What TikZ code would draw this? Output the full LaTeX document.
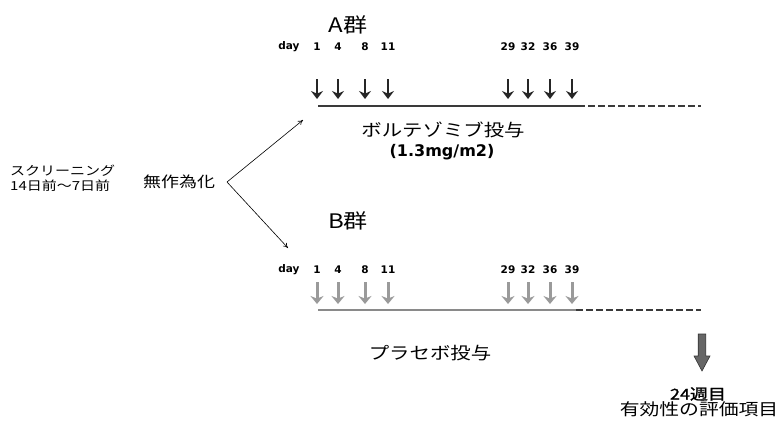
\documentclass[tikz,border=0pt]{standalone}
\usepackage{fontspec}
\setmainfont{DejaVu Sans}
\newfontfamily\jp[FakeStretch=1.2]{Noto Sans CJK JP}
\newfontfamily\jpb[FakeStretch=1.2,FakeBold=1.5]{Noto Sans CJK JP}
\newfontfamily\latb{DejaVu Sans Bold}
\usetikzlibrary{arrows.meta}
\definecolor{darkline}{HTML}{3A3A3A}
\definecolor{grayline}{HTML}{8A8A8A}
\definecolor{grayarrow}{HTML}{9A9A9A}
\tikzset{
  jptext/.style={inner sep=0pt, font=\jp\fontsize{#1}{#1}\selectfont},
  daylbl/.style={inner sep=0pt, font=\latb\fontsize{10.5}{11}\selectfont},
  doseA/.style={line width=2.8pt, draw=black!85, -{Stealth[length=8pt,width=12pt]}},
  doseB/.style={line width=3pt, draw=grayarrow, -{Stealth[length=8pt,width=13pt]}},
  solidA/.style={line width=2.4pt, draw=darkline},
  solidB/.style={line width=2.2pt, draw=grayline},
  dashB/.style={line width=2pt, draw=darkline, dash pattern=on 7pt off 3pt},
  thinarrow/.style={line width=0.6pt, -{To[length=5pt,width=5pt]}}
}
\begin{document}
\begin{tikzpicture}[x=1pt,y=-1pt]
\useasboundingbox (0,0) rectangle (783,421);

% left texts
\node[jptext=12.5, anchor=west] (scr1) at (10,171) {スクリーニング};
\node[jptext=12.5, anchor=west] (scr2) at (10,186) {14日前〜7日前};
\node[jptext=15] (rand) at (179,182) {無作為化};

% group titles
\node[jptext=20] (gA) at (348,25) {A群};
\node[jptext=20] (gB) at (348,221) {B群};

% randomization arrows
\coordinate (vtx) at (227,182);
\coordinate (tipA) at (303,120);
\coordinate (tipB) at (288,248);
\draw[thinarrow] (vtx) -- (tipA);
\draw[thinarrow] (vtx) -- (tipB);

% day labels
\node[daylbl] (dA) at (289,47) {day};
\node[daylbl] (dB) at (289,270) {day};
\foreach \x/\d [count=\i] in {317/1,338/4,365/8,388/11,508/29,528/32,550/36,572/39}{
  \node[daylbl] (na\i) at (\x,47) {\d};
  \node[daylbl] (nb\i) at (\x,270) {\d};
  \coordinate (a\i s) at (\x,79);
  \coordinate (a\i e) at (\x,99);
  \coordinate (b\i s) at (\x,282);
  \coordinate (b\i e) at (\x,304);
  \draw[doseA] (a\i s) -- (a\i e);
  \draw[doseB] (b\i s) -- (b\i e);
}

% timelines
\coordinate (lA0) at (318,106);
\coordinate (lA1) at (578,106);
\coordinate (lA2) at (701,106);
\coordinate (lB0) at (318,310);
\coordinate (lB1) at (576,310);
\coordinate (lB2) at (701,310);
\draw[solidA] (lA0) -- (lA1);
\draw[dashB] (lA1) -- (lA2);
\draw[solidB] (lB0) -- (lB1);
\draw[dashB] (lB1) -- (lB2);

% treatment labels
\node[jptext=17] (drug) at (443,130) {ボルテゾミブ投与};
\node[inner sep=0pt, font=\latb\fontsize{16}{17}\selectfont] (dose) at (442,152) {(1.3mg/m2)};
\node[jptext=17] (plc) at (430,353) {プラセボ投与};

% big arrow
\coordinate (bigtop) at (702,334);
\filldraw[fill=gray!80!black, draw=black!80, line width=0.6pt]
  ([xshift=-3.8pt]bigtop) -- ([xshift=3.8pt]bigtop) -- ([xshift=3.8pt,yshift=-22pt]bigtop)
  -- ([xshift=8pt,yshift=-22pt]bigtop) -- ([yshift=-37pt]bigtop) -- ([xshift=-8pt,yshift=-22pt]bigtop)
  -- ([xshift=-3.8pt,yshift=-22pt]bigtop) -- cycle;

% result labels
\node[inner sep=0pt, font=\jpb\fontsize{15}{16}\selectfont] (wk) at (698,394) {24週目};
\node[jptext=16.5] (eval) at (699,409) {有効性の評価項目};
\end{tikzpicture}
\end{document}
